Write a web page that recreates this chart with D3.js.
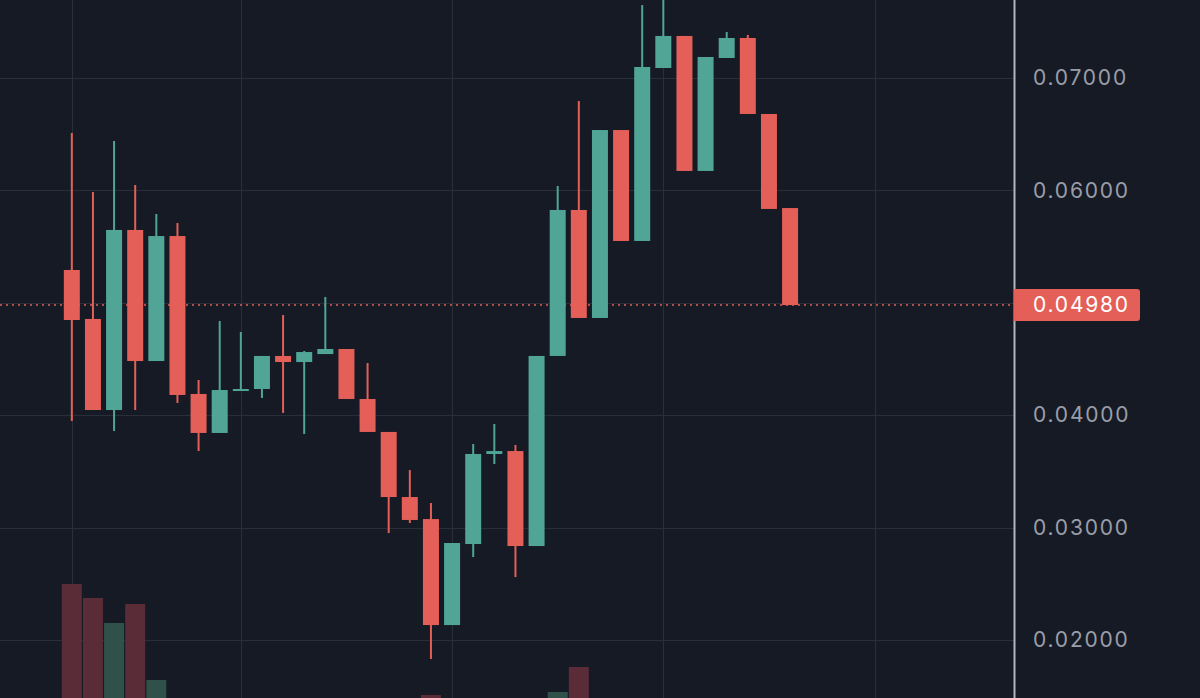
<!DOCTYPE html>
<html>
<head>
<meta charset="utf-8">
<script src="https://cdn.jsdelivr.net/npm/d3@7"></script>
<style>
  html, body { margin: 0; padding: 0; background: #161a25; }
  svg { display: block; }
</style>
</head>
<body>
<svg id="svg" width="1200" height="698"></svg>
<script>
// candle data (index = bar number)
const opens  = [0.05292, 0.04856, 0.04046, 0.05648, 0.04482, 0.05594, 0.04189, 0.03842, 0.04224, 0.04233,
                0.04527, 0.04473, 0.04544, 0.04589, 0.04144, 0.03851, 0.03272, 0.03076, 0.02133, 0.02854,
                0.03655, 0.03681, 0.02836, 0.04527, 0.05826, 0.04865, 0.06537, 0.05550, 0.07089, 0.07374,
                0.06173, 0.07178, 0.07356, 0.06680, 0.05843];
const highs  = [0.06511, 0.05986, 0.06440, 0.06048, 0.05790, 0.05710, 0.04313, 0.04838, 0.04740, 0.04527,
                0.04891, 0.04571, 0.05052, 0.04589, 0.04464, 0.03851, 0.03512, 0.03219, 0.02863, 0.03744,
                0.03922, 0.03735, 0.04527, 0.06039, 0.06795, 0.06537, 0.06537, 0.07649, 0.07790, 0.07374,
                0.07187, 0.07409, 0.07383, 0.06680, 0.05843];
const lows   = [0.03948, 0.04046, 0.03859, 0.04046, 0.04482, 0.04109, 0.03681, 0.03842, 0.04224, 0.04153,
                0.04020, 0.03833, 0.04544, 0.04144, 0.03851, 0.02952, 0.03041, 0.01831, 0.02133, 0.02738,
                0.03566, 0.02560, 0.02836, 0.04527, 0.04865, 0.04865, 0.05550, 0.05550, 0.07089, 0.06173,
                0.06173, 0.07178, 0.06680, 0.05835, 0.04980];
const closes = [0.04847, 0.04046, 0.05648, 0.04482, 0.05594, 0.04180, 0.03842, 0.04224, 0.04233, 0.04527,
                0.04473, 0.04562, 0.04589, 0.04144, 0.03851, 0.03272, 0.03068, 0.02133, 0.02863, 0.03655,
                0.03681, 0.02836, 0.04527, 0.05826, 0.04865, 0.06537, 0.05550, 0.07098, 0.07374, 0.06173,
                0.07187, 0.07356, 0.06680, 0.05835, 0.04980];
// volume (arbitrary units), mostly below the visible window
const volumes = [116, 102, 77, 96, 20, 0, 0, 0, 0, 0,
                 0, 0, 0, 0, 0, 0, 0, 5, 0, 0,
                 0, 0, 0, 8, 33, 0, 0, 0, 0, 0,
                 0, 0, 0, 0, 0];

const yTicks = [0.02, 0.03, 0.04, 0.05, 0.06, 0.07];
const xGridBars = [0, 8, 18, 28, 38];
const lastPrice = closes[closes.length - 1];

const W = 1200, H = 698;
const plotRight = 1014;

const upColor = '#50a597';
const downColor = '#e35f58';
const upVol = '#2f5149';
const downVol = '#5a2c37';

const svg = d3.select('#svg');

svg.append('rect').attr('width', W).attr('height', H).attr('fill', '#161a25');

const x = d3.scaleLinear().domain([-3.4, 44.6]).range([0, plotRight]);
const y = d3.scaleLinear().domain([0.02, 0.07]).range([640, 78]);
const yVol = d3.scaleLinear().domain([0, 116]).range([700, 584]);

svg.append('clipPath').attr('id', 'plotClip')
    .append('rect').attr('x', 0).attr('y', 0).attr('width', plotRight).attr('height', H);

const plot = svg.append('g').attr('clip-path', 'url(#plotClip)');

// grid
plot.append('g').selectAll('line')
    .data(yTicks)
    .join('line')
    .attr('x1', 0).attr('x2', plotRight)
    .attr('y1', d => Math.round(y(d)) + 0.5).attr('y2', d => Math.round(y(d)) + 0.5)
    .attr('stroke', '#2a2e39')
    .attr('stroke-width', 1);

plot.append('g').selectAll('line')
    .data(xGridBars)
    .join('line')
    .attr('x1', d => Math.round(x(d)) + 0.5).attr('x2', d => Math.round(x(d)) + 0.5)
    .attr('y1', 0).attr('y2', H)
    .attr('stroke', '#2a2e39')
    .attr('stroke-width', 1);

const bars = d3.range(opens.length);
const bodyW = 16;
const volW = 20;

// volume
plot.append('g').selectAll('rect')
    .data(bars.filter(i => volumes[i] > 0))
    .join('rect')
    .attr('x', i => x(i) - volW / 2)
    .attr('width', volW)
    .attr('y', i => yVol(volumes[i]))
    .attr('height', i => yVol(0) - yVol(volumes[i]))
    .attr('fill', i => closes[i] >= opens[i] ? upVol : downVol);

// price line
plot.append('line')
    .attr('x1', 0).attr('x2', plotRight)
    .attr('y1', y(lastPrice)).attr('y2', y(lastPrice))
    .attr('stroke', downColor)
    .attr('stroke-width', 1.5)
    .attr('stroke-dasharray', '2,4');

// wicks
plot.append('g').selectAll('line')
    .data(bars)
    .join('line')
    .attr('x1', i => x(i)).attr('x2', i => x(i))
    .attr('y1', i => y(highs[i])).attr('y2', i => y(lows[i]))
    .attr('stroke', i => closes[i] >= opens[i] ? upColor : downColor)
    .attr('stroke-width', 2);

// bodies
plot.append('g').selectAll('rect')
    .data(bars)
    .join('rect')
    .attr('x', i => x(i) - bodyW / 2)
    .attr('width', bodyW)
    .attr('y', i => y(Math.max(opens[i], closes[i])))
    .attr('height', i => Math.max(2, Math.abs(y(opens[i]) - y(closes[i]))))
    .attr('fill', i => closes[i] >= opens[i] ? upColor : downColor);

// right price axis
const axis = d3.axisRight(y)
    .tickValues(yTicks.filter(t => Math.abs(t - lastPrice) > 0.003))
    .tickFormat(d3.format('.5f'))
    .tickSize(0)
    .tickPadding(19);

const axisG = svg.append('g')
    .attr('transform', `translate(${plotRight},0)`)
    .call(axis);
axisG.select('.domain').remove();
axisG.selectAll('text')
    .attr('fill', '#9a9ea8')
    .attr('font-family', 'Inter, "Liberation Sans", sans-serif')
    .attr('font-size', 21)
    .attr('letter-spacing', 1.8);

svg.append('line')
    .attr('x1', plotRight + 0.5).attr('x2', plotRight + 0.5)
    .attr('y1', 0).attr('y2', H)
    .attr('stroke', '#b2b5be')
    .attr('stroke-width', 2);

// last price label
const py = y(lastPrice);
svg.append('path')
    .attr('d', `M${plotRight},${py - 16} H${1137} a3,3 0 0 1 3,3 V${py + 13} a3,3 0 0 1 -3,3 H${plotRight} Z`)
    .attr('fill', downColor);
svg.append('text')
    .attr('x', plotRight + 19)
    .attr('y', py)
    .attr('dy', '0.35em')
    .attr('fill', '#ffffff')
    .attr('font-family', 'Inter, "Liberation Sans", sans-serif')
    .attr('font-size', 21)
    .attr('letter-spacing', 1.8)
    .text(d3.format('.5f')(lastPrice));
</script>
</body>
</html>
